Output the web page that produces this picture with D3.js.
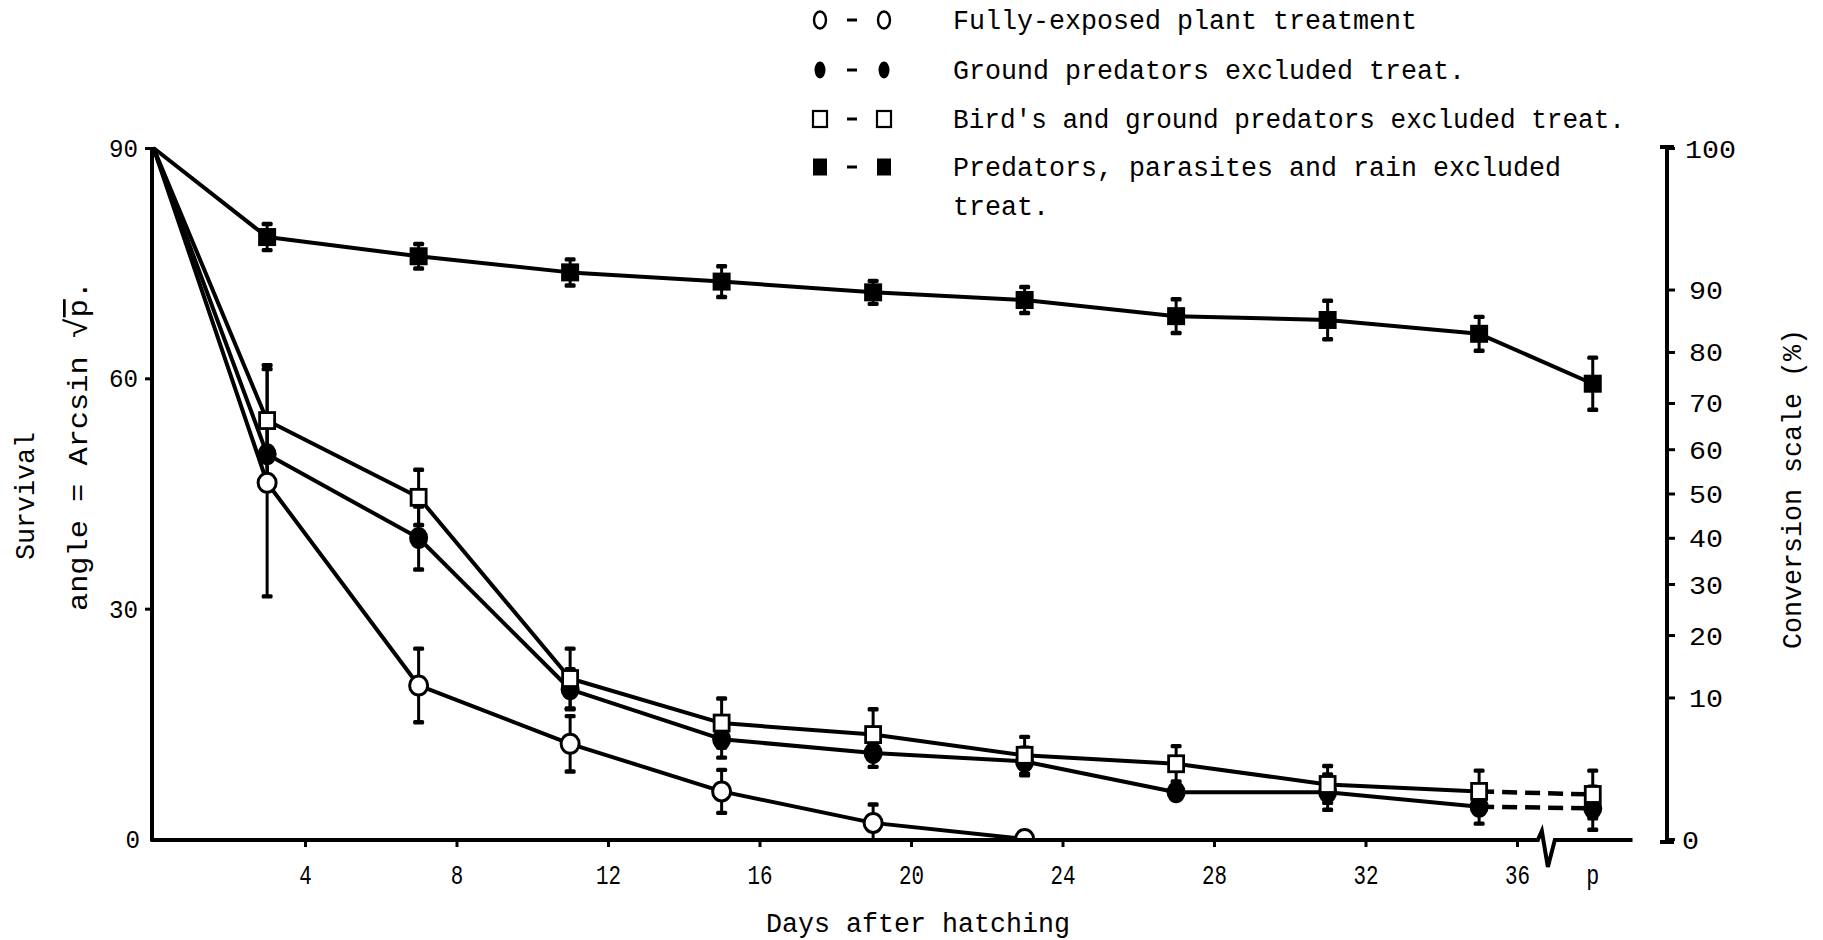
<!DOCTYPE html>
<html>
<head>
<meta charset="utf-8">
<script src="https://cdn.jsdelivr.net/npm/d3@7"></script>
<style>
  html, body { margin: 0; padding: 0; background: #ffffff; }
  svg { display: block; }
</style>
</head>
<body>
<svg id="chart" width="1823" height="940"></svg>
<script>
// Larval survival (angle = arcsin sqrt p) under four exclusion treatments.

// ---- data ----
const days = [0, 3, 7, 11, 15, 19, 23, 27, 31, 35, 38];
const exposedDays = [0, 3, 7, 11, 15, 19, 23];
const exposedMean = [90, 46.4, 20.0, 12.4, 6.2, 2.1, 0];
const exposedErr  = [0, 14.8, 4.8, 3.6, 2.8, 2.4, 0];
const groundMean  = [90, 50.1, 39.2, 19.5, 13.0, 11.2, 10.1, 6.1, 6.1, 4.2, 4.0];
const groundErr   = [0, 4.0, 4.1, 2.6, 2.4, 1.8, 1.8, 0, 2.3, 2.2, 2.8];
const birdsMean   = [90, 54.5, 44.5, 20.9, 15.1, 13.6, 10.9, 9.8, 7.1, 6.2, 5.8];
const birdsErr    = [0, 7.2, 3.6, 3.9, 3.2, 3.3, 2.4, 2.3, 2.4, 2.7, 3.1];
const allMean     = [90, 78.4, 75.9, 73.8, 72.6, 71.2, 70.2, 68.1, 67.6, 65.8, 59.3];
const allErr      = [0, 1.7, 1.6, 1.7, 2.0, 1.5, 1.7, 2.2, 2.5, 2.2, 3.4];

const dayTicks = [4, 8, 12, 16, 20, 24, 28, 32, 36];
const pupaDay = 38;
const pupaLabel = "p";
const angleTicks = [0, 30, 60, 90];
const percentTicks = [0, 10, 20, 30, 40, 50, 60, 70, 80, 90, 100];

const legendLabels = [
  ["Fully-exposed plant treatment"],
  ["Ground predators excluded treat."],
  ["Bird's and ground predators excluded treat."],
  ["Predators, parasites and rain excluded", "treat."]
];
const legendMarkers = ["openCircle", "filledCircle", "openSquare", "filledSquare"];

const xLabel = "Days after hatching";
const yLabel1 = "Survival";
const yLabel2 = "angle = Arcsin ";
const rightLabel = "Conversion scale (%)";

// ---- setup ----
const FONT = "'Liberation Mono', 'DejaVu Sans Mono', monospace";
const svg = d3.select("#chart");

const x = d3.scaleLinear().domain([0, 38]).range([153.5, 1592.75]);
const y = d3.scaleLinear().domain([0, 90]).range([839, 148]);
const toAngle = p => Math.asin(Math.sqrt(p / 100)) * 180 / Math.PI;

const series = [
  { days: exposedDays, mean: exposedMean, err: exposedErr, marker: "openCircle", dashLast: false },
  { days: days, mean: groundMean, err: groundErr, marker: "filledCircle", dashLast: true },
  { days: days, mean: birdsMean, err: birdsErr, marker: "openSquare", dashLast: true },
  { days: days, mean: allMean, err: allErr, marker: "filledSquare", dashLast: false }
];

// condensed typewriter text: fixed advance per character
function typed(sel, str, px, perChar, totalLen) {
  return sel.append("text")
    .attr("font-family", FONT)
    .attr("font-size", px)
    .attr("fill", "#000")
    .attr("textLength", totalLen || str.length * perChar)
    .attr("lengthAdjust", "spacingAndGlyphs")
    .text(str);
}

function drawMarker(g, kind, cx, cy) {
  if (kind === "openCircle") {
    g.append("ellipse").attr("cx", cx).attr("cy", cy).attr("rx", 9).attr("ry", 9.5)
      .attr("fill", "#fff").attr("stroke", "#000").attr("stroke-width", 3);
  } else if (kind === "filledCircle") {
    g.append("ellipse").attr("cx", cx).attr("cy", cy).attr("rx", 9.5).attr("ry", 11)
      .attr("fill", "#000");
  } else if (kind === "openSquare") {
    g.append("rect").attr("x", cx - 7.5).attr("y", cy - 8)
      .attr("width", 15).attr("height", 16)
      .attr("fill", "#fff").attr("stroke", "#000").attr("stroke-width", 2.8);
  } else {
    g.append("rect").attr("x", cx - 9).attr("y", cy - 9)
      .attr("width", 18).attr("height", 18).attr("fill", "#000");
  }
}

// ---- plotting area (clipped at the zero line) ----
svg.append("clipPath").attr("id", "plotClip")
  .append("rect").attr("x", 0).attr("y", 0).attr("width", 1823).attr("height", y(0));

const plot = svg.append("g").attr("clip-path", "url(#plotClip)");

const line = d3.line().x(d => x(d[0])).y(d => y(d[1]));

series.forEach(s => {
  const pts = s.days.map((d, i) => [d, s.mean[i]]);
  const solid = s.dashLast ? pts.slice(0, pts.length - 1) : pts;
  plot.append("path").attr("d", line(solid))
    .attr("fill", "none").attr("stroke", "#000").attr("stroke-width", 4)
    .attr("stroke-linejoin", "round");
  if (s.dashLast) {
    plot.append("path").attr("d", line(pts.slice(pts.length - 2)))
      .attr("fill", "none").attr("stroke", "#000").attr("stroke-width", 4.5)
      .attr("stroke-dasharray", "15,8");
  }
});

// error bars
series.forEach(s => {
  s.days.forEach((d, i) => {
    const e = s.err[i];
    if (!e) return;
    const cx = x(d), top = y(s.mean[i] + e), bot = y(s.mean[i] - e);
    plot.append("line").attr("x1", cx).attr("x2", cx).attr("y1", top).attr("y2", bot)
      .attr("stroke", "#000").attr("stroke-width", 3);
    [top, bot].forEach(yy => {
      plot.append("rect").attr("x", cx - 5.5).attr("y", yy - 2.2)
        .attr("width", 11).attr("height", 4.4).attr("rx", 1.5).attr("fill", "#000");
    });
  });
});

// markers
series.forEach(s => {
  s.days.forEach((d, i) => {
    if (d === 0) return;
    drawMarker(plot, s.marker, x(d), y(s.mean[i]));
  });
});

// ---- left axis ----
const leftAxis = svg.append("g")
  .attr("transform", `translate(${x(0) - 1.5},0)`)
  .call(d3.axisLeft(y).tickValues(angleTicks).tickSize(7).tickPadding(6).tickFormat(d3.format("d")));
leftAxis.select(".domain").remove();
leftAxis.selectAll(".tick line").attr("stroke", "#000").attr("stroke-width", 3)
  .filter(d => d === 0).remove();
leftAxis.selectAll(".tick text").remove();
leftAxis.selectAll(".tick").each(function(d) {
  const lab = String(d);
  typed(d3.select(this), lab, 26, 14.5)
    .attr("text-anchor", "end").attr("x", d === 0 ? -12 : -14).attr("y", 8.5);
});

svg.append("line")
  .attr("x1", x(0) - 1.5).attr("x2", x(0) - 1.5).attr("y1", y(90) - 1).attr("y2", y(0) + 2)
  .attr("stroke", "#000").attr("stroke-width", 4);

// ---- bottom axis with a break before the pupal stage ----
const bottomAxis = svg.append("g")
  .attr("transform", `translate(0,${y(0)})`)
  .call(d3.axisBottom(x).tickValues(dayTicks).tickSize(8).tickFormat(d3.format("d")));
bottomAxis.select(".domain").remove();
bottomAxis.selectAll(".tick line").attr("stroke", "#000").attr("stroke-width", 3);
bottomAxis.selectAll(".tick text").remove();
bottomAxis.selectAll(".tick").each(function(d) {
  typed(d3.select(this), String(d), 28, 12.5)
    .attr("text-anchor", "middle").attr("y", 45);
});
typed(svg, pupaLabel, 28, 13)
  .attr("x", x(pupaDay)).attr("y", y(0) + 45).attr("text-anchor", "middle");

const bx = x(36.55), y0 = y(0) + 1;
svg.append("path")
  .attr("d", `M${x(0) - 3},${y0} L${bx},${y0} L${bx + 4},${y0 - 9} L${bx + 10},${y0 + 27} L${bx + 17},${y0} L${x(39.05)},${y0}`)
  .attr("fill", "none").attr("stroke", "#000").attr("stroke-width", 4).attr("stroke-linejoin", "miter");

// ---- right conversion axis (percent on the angle scale) ----
const rx = 1667;
const rightAxis = svg.append("g")
  .attr("transform", `translate(${rx},0)`)
  .call(d3.axisRight(y).tickValues(percentTicks.map(toAngle)).tickSize(8).tickFormat((d, i) => percentTicks[i]));
rightAxis.select(".domain").remove();
rightAxis.selectAll(".tick line").attr("stroke", "#000").attr("stroke-width", 3);
rightAxis.selectAll(".tick text").remove();
rightAxis.selectAll(".tick").each(function(d, i) {
  const lab = String(percentTicks[i]);
  const t = typed(d3.select(this), lab, 25, 17).attr("y", 9);
  t.attr("x", lab === "0" ? 15 : (lab === "100" ? 18 : 22));
});
svg.append("line")
  .attr("x1", rx).attr("x2", rx).attr("y1", y(90) - 1).attr("y2", y(0) + 3)
  .attr("stroke", "#000").attr("stroke-width", 4);
[y(90) - 1, y(0) + 3].forEach(yy => {
  svg.append("line").attr("x1", rx - 7).attr("x2", rx + 7).attr("y1", yy).attr("y2", yy)
    .attr("stroke", "#000").attr("stroke-width", 4);
});

// ---- axis titles ----
typed(svg, xLabel, 27, 16)
  .attr("x", 918).attr("y", 932).attr("text-anchor", "middle");

typed(svg, yLabel1, 27, 16)
  .attr("text-anchor", "middle")
  .attr("transform", "translate(34,496) rotate(-90)");

const yl2 = svg.append("text")
  .attr("font-family", FONT).attr("font-size", 27).attr("fill", "#000")
  .attr("text-anchor", "middle")
  .attr("textLength", 330).attr("lengthAdjust", "spacingAndGlyphs")
  .attr("transform", "translate(87,446) rotate(-90)");
yl2.append("tspan").text(yLabel2);
yl2.append("tspan").attr("font-size", 31).text("\u221A");
yl2.append("tspan").attr("text-decoration", "overline").text("p");
yl2.append("tspan").text(".");

typed(svg, rightLabel, 27, 16)
  .attr("text-anchor", "middle")
  .attr("transform", "translate(1801,489) rotate(-90)");

// ---- legend ----
const legendRows = [20, 70, 119, 167];
legendRows.forEach((cy, i) => {
  const g = svg.append("g");
  const kind = legendMarkers[i];
  if (kind === "openCircle") {
    [820, 884].forEach(cx => g.append("ellipse").attr("cx", cx).attr("cy", cy)
      .attr("rx", 6).attr("ry", 8.5).attr("fill", "#fff").attr("stroke", "#000").attr("stroke-width", 2.4));
  } else if (kind === "filledCircle") {
    [820, 884].forEach(cx => g.append("ellipse").attr("cx", cx).attr("cy", cy)
      .attr("rx", 5.5).attr("ry", 8.5).attr("fill", "#000"));
  } else if (kind === "openSquare") {
    [820, 884].forEach(cx => g.append("rect").attr("x", cx - 7).attr("y", cy - 8)
      .attr("width", 14).attr("height", 16).attr("fill", "#fff").attr("stroke", "#000").attr("stroke-width", 2.2));
  } else {
    [820, 884].forEach(cx => g.append("rect").attr("x", cx - 7).attr("y", cy - 8.5)
      .attr("width", 14).attr("height", 17).attr("fill", "#000"));
  }
  g.append("line").attr("x1", 847).attr("x2", 857).attr("y1", cy).attr("y2", cy)
    .attr("stroke", "#000").attr("stroke-width", 3);

  legendLabels[i].forEach((txt, j) => {
    // the typed apostrophe in "Bird's" shares the cell of the "d"
    const len = (txt.includes("'") ? txt.length - 1 : txt.length) * 16;
    typed(svg, txt, 27, 16, len).attr("x", 953).attr("y", cy + 9 + j * 39);
  });
});
</script>
</body>
</html>
